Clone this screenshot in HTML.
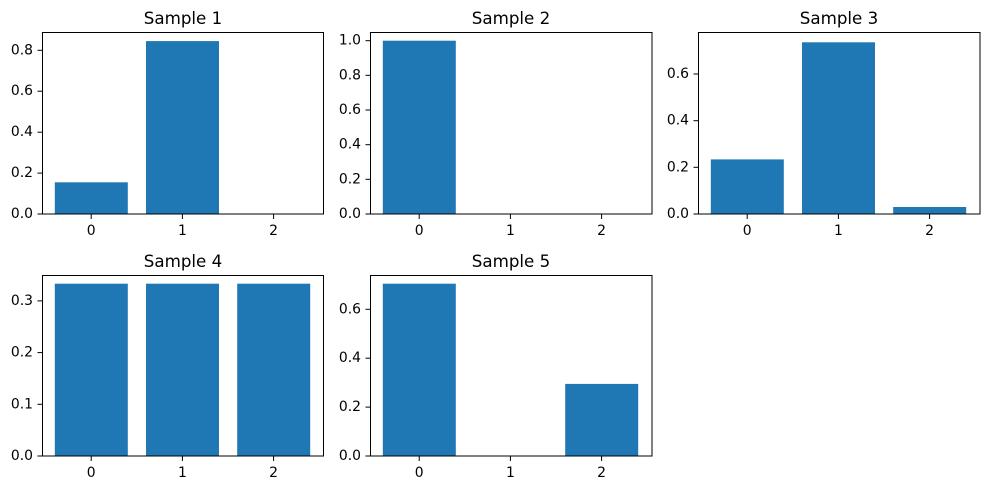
<!DOCTYPE html>
<html><head><meta charset="utf-8"><style>
html,body{margin:0;padding:0;background:#fff;}
svg{display:block;font-family:"DejaVu Sans","Liberation Sans",sans-serif;}
.t{font-size:13.9px;fill:#000;}
.ti{font-size:16.7px;fill:#000;text-anchor:middle;}
.yl{text-anchor:end;dominant-baseline:central;}
.xl{text-anchor:middle;}
.ax{fill:none;stroke:#000;stroke-width:1;}
.tk{stroke:#000;stroke-width:1;}
.b{fill:#1f77b4;}
</style></head><body>
<svg width="989" height="490" viewBox="0 0 989 490" xmlns="http://www.w3.org/2000/svg">
<rect width="989" height="490" fill="#fff"/>

<!-- Sample 1 -->
<rect class="b" x="54.8" y="182.3" width="73" height="31.7"/>
<rect class="b" x="146" y="41.1" width="73" height="172.9"/>
<rect class="ax" x="42.5" y="32.5" width="281" height="181.5"/>
<text class="ti" x="183" y="24">Sample 1</text>
<g class="tk"><line x1="91.2" y1="214" x2="91.2" y2="219"/><line x1="182.4" y1="214" x2="182.4" y2="219"/><line x1="273.6" y1="214" x2="273.6" y2="219"/>
<line x1="37.5" y1="214" x2="42.5" y2="214"/><line x1="37.5" y1="173.1" x2="42.5" y2="173.1"/><line x1="37.5" y1="132.2" x2="42.5" y2="132.2"/><line x1="37.5" y1="91.2" x2="42.5" y2="91.2"/><line x1="37.5" y1="50.3" x2="42.5" y2="50.3"/></g>
<g class="t xl"><text x="91.2" y="235">0</text><text x="182.4" y="235">1</text><text x="273.6" y="235">2</text></g>
<g class="t yl"><text x="33" y="214">0.0</text><text x="33" y="173.1">0.2</text><text x="33" y="132.2">0.4</text><text x="33" y="91.2">0.6</text><text x="33" y="50.3">0.8</text></g>

<!-- Sample 2 -->
<rect class="b" x="382.8" y="40.7" width="73" height="173.3"/>
<rect class="ax" x="370.5" y="32.5" width="281.5" height="181.5"/>
<text class="ti" x="511" y="24">Sample 2</text>
<g class="tk"><line x1="419.2" y1="214" x2="419.2" y2="219"/><line x1="510.4" y1="214" x2="510.4" y2="219"/><line x1="601.6" y1="214" x2="601.6" y2="219"/>
<line x1="365.5" y1="214" x2="370.5" y2="214"/><line x1="365.5" y1="179.3" x2="370.5" y2="179.3"/><line x1="365.5" y1="144.7" x2="370.5" y2="144.7"/><line x1="365.5" y1="110" x2="370.5" y2="110"/><line x1="365.5" y1="75.3" x2="370.5" y2="75.3"/><line x1="365.5" y1="40.7" x2="370.5" y2="40.7"/></g>
<g class="t xl"><text x="419.2" y="235">0</text><text x="510.4" y="235">1</text><text x="601.6" y="235">2</text></g>
<g class="t yl"><text x="361" y="214">0.0</text><text x="361" y="179.3">0.2</text><text x="361" y="144.7">0.4</text><text x="361" y="110">0.6</text><text x="361" y="75.3">0.8</text><text x="361" y="40.7">1.0</text></g>

<!-- Sample 3 -->
<rect class="b" x="710.8" y="159.4" width="73" height="54.6"/>
<rect class="b" x="802" y="42.3" width="73" height="171.7"/>
<rect class="b" x="893.2" y="207" width="73" height="7"/>
<rect class="ax" x="698.5" y="32.5" width="281.5" height="181.5"/>
<text class="ti" x="839" y="24">Sample 3</text>
<g class="tk"><line x1="747.2" y1="214" x2="747.2" y2="219"/><line x1="838.4" y1="214" x2="838.4" y2="219"/><line x1="929.6" y1="214" x2="929.6" y2="219"/>
<line x1="693.5" y1="214" x2="698.5" y2="214"/><line x1="693.5" y1="167.3" x2="698.5" y2="167.3"/><line x1="693.5" y1="120.7" x2="698.5" y2="120.7"/><line x1="693.5" y1="74" x2="698.5" y2="74"/></g>
<g class="t xl"><text x="747.2" y="235">0</text><text x="838.4" y="235">1</text><text x="929.6" y="235">2</text></g>
<g class="t yl"><text x="689" y="214">0.0</text><text x="689" y="167.3">0.2</text><text x="689" y="120.7">0.4</text><text x="689" y="74">0.6</text></g>

<!-- Sample 4 -->
<rect class="b" x="54.8" y="283.7" width="73" height="172.3"/>
<rect class="b" x="146" y="283.7" width="73" height="172.3"/>
<rect class="b" x="237.2" y="283.7" width="73" height="172.3"/>
<rect class="ax" x="42.5" y="275.5" width="281" height="180.5"/>
<text class="ti" x="183" y="267">Sample 4</text>
<g class="tk"><line x1="91.2" y1="456" x2="91.2" y2="461"/><line x1="182.4" y1="456" x2="182.4" y2="461"/><line x1="273.6" y1="456" x2="273.6" y2="461"/>
<line x1="37.5" y1="456" x2="42.5" y2="456"/><line x1="37.5" y1="404.3" x2="42.5" y2="404.3"/><line x1="37.5" y1="352.6" x2="42.5" y2="352.6"/><line x1="37.5" y1="300.9" x2="42.5" y2="300.9"/></g>
<g class="t xl"><text x="91.2" y="477">0</text><text x="182.4" y="477">1</text><text x="273.6" y="477">2</text></g>
<g class="t yl"><text x="33" y="456">0.0</text><text x="33" y="404.3">0.1</text><text x="33" y="352.6">0.2</text><text x="33" y="300.9">0.3</text></g>

<!-- Sample 5 -->
<rect class="b" x="382.8" y="283.7" width="73" height="172.3"/>
<rect class="b" x="565.2" y="383.9" width="73" height="72.1"/>
<rect class="ax" x="370.5" y="275.5" width="281.5" height="180.5"/>
<text class="ti" x="511" y="267">Sample 5</text>
<g class="tk"><line x1="419.2" y1="456" x2="419.2" y2="461"/><line x1="510.4" y1="456" x2="510.4" y2="461"/><line x1="601.6" y1="456" x2="601.6" y2="461"/>
<line x1="365.5" y1="456" x2="370.5" y2="456"/><line x1="365.5" y1="407.1" x2="370.5" y2="407.1"/><line x1="365.5" y1="358.2" x2="370.5" y2="358.2"/><line x1="365.5" y1="309.3" x2="370.5" y2="309.3"/></g>
<g class="t xl"><text x="419.2" y="477">0</text><text x="510.4" y="477">1</text><text x="601.6" y="477">2</text></g>
<g class="t yl"><text x="361" y="456">0.0</text><text x="361" y="407.1">0.2</text><text x="361" y="358.2">0.4</text><text x="361" y="309.3">0.6</text></g>
</svg>
</body></html>
